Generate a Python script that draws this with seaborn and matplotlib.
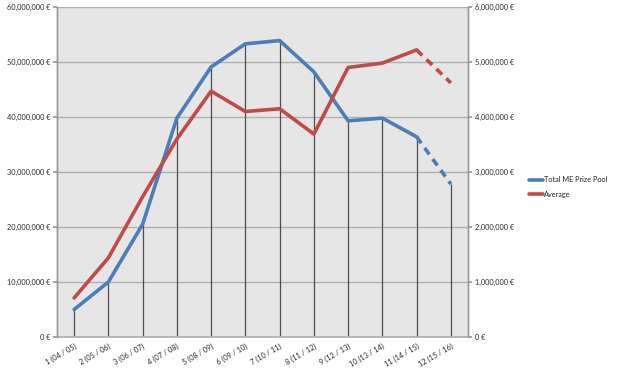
import matplotlib
matplotlib.use("Agg")
import matplotlib.pyplot as plt
import seaborn as sns
import pandas as pd
import numpy as np
from matplotlib.ticker import FuncFormatter
from matplotlib.lines import Line2D

categories = ["1 (04 / 05)", "2 (05 / 06)", "3 (06 / 07)", "4 (07 / 08)", "5 (08 / 09)",
              "6 (09 / 10)", "7 (10 / 11)", "8 (11 / 12)", "9 (12 / 13)", "10 (13 / 14)",
              "11 (14 / 15)", "12 (15 / 16)"]
total_prize_pool = [5.0e6, 10.0e6, 20.5e6, 39.8e6, 49.1e6, 53.3e6, 53.9e6, 48.2e6,
                    39.3e6, 39.8e6, 36.4e6, 27.8e6]
average = [0.71e6, 1.44e6, 2.55e6, 3.6e6, 4.47e6, 4.1e6, 4.15e6, 3.69e6,
           4.9e6, 4.98e6, 5.22e6, 4.62e6]
left_ticks = [0, 10e6, 20e6, 30e6, 40e6, 50e6, 60e6]
right_ticks = [0, 1e6, 2e6, 3e6, 4e6, 5e6, 6e6]

BLUE = "#4A7EBB"
RED = "#BE4B48"
FS = 5.3

sns.set_theme(style="white")
plt.rcParams['font.family'] = ['Lato', 'DejaVu Sans']

fig = plt.figure(figsize=(6.18, 3.72), dpi=100)
ax = fig.add_axes([57/618, 35/372, (468-57)/618, (337-7)/372])
ax2 = ax.twinx()

x = np.arange(len(categories))
df = pd.DataFrame({"x": x, "total": total_prize_pool, "avg": average})
solid = df.iloc[:-1]
dashed = df.iloc[-2:]

ax.set_facecolor("#E6E6E6")
ax.set_zorder(1)
ax2.set_zorder(2)
ax2.patch.set_visible(False)

# drop lines
ax.vlines(df["x"], 0, df["total"], color="#4d4d4d", lw=0.9, zorder=2)

sns.lineplot(data=solid, x="x", y="total", ax=ax, color=BLUE, lw=2.6, zorder=3)
sns.lineplot(data=dashed, x="x", y="total", ax=ax, color=BLUE, lw=2.6, zorder=3,
             linestyle=(0, (2.2, 1.6)))
sns.lineplot(data=solid, x="x", y="avg", ax=ax2, color=RED, lw=2.6, zorder=3)
sns.lineplot(data=dashed, x="x", y="avg", ax=ax2, color=RED, lw=2.6, zorder=3,
             linestyle=(0, (2.2, 1.6)))

ax.set_ylim(0, 60e6)
ax2.set_ylim(0, 6e6)
ax.set_xlim(-0.5, len(categories) - 0.5)
ax.set_yticks(left_ticks)
ax2.set_yticks(right_ticks)
fmt = FuncFormatter(lambda v, p: f"{int(round(v)):,} €")
ax.yaxis.set_major_formatter(fmt)
ax2.yaxis.set_major_formatter(fmt)
ax.grid(axis="y", color="#b0b0b0", lw=1.0, zorder=0)
ax.grid(axis="x", visible=False)
ax.set_axisbelow(True)

ax.set_xticks(x)
ax.set_xticklabels(categories, rotation=30, ha="right", rotation_mode="anchor",
                   fontsize=FS)
ax.tick_params(axis="y", labelsize=FS, length=3, color="#999999", left=True, pad=2)
ax2.tick_params(axis="y", labelsize=FS, length=3, color="#999999", right=True, pad=2)
ax.tick_params(axis="x", length=0, pad=4)
ax.set_xlabel("")
ax.set_ylabel("")
ax2.set_ylabel("")

for a in (ax, ax2):
    for s in ["top", "bottom"]:
        a.spines[s].set_visible(False)
    a.spines["left"].set_color("#999999")
    a.spines["right"].set_color("#999999")
    a.spines["left"].set_linewidth(1.0)
    a.spines["right"].set_linewidth(1.0)
ax.spines["bottom"].set_visible(True)
ax.spines["bottom"].set_color("#b0b0b0")

handles = [Line2D([], [], color=BLUE, lw=2.6), Line2D([], [], color=RED, lw=2.6)]
fig.legend(handles, ["Total ME Prize Pool", "Average"], loc="center left",
           bbox_to_anchor=(522/618, 1 - 187/372), frameon=False, fontsize=FS,
           handlelength=2.0, handletextpad=0.1, labelspacing=1.0)

fig.savefig("out.png", dpi=100)
